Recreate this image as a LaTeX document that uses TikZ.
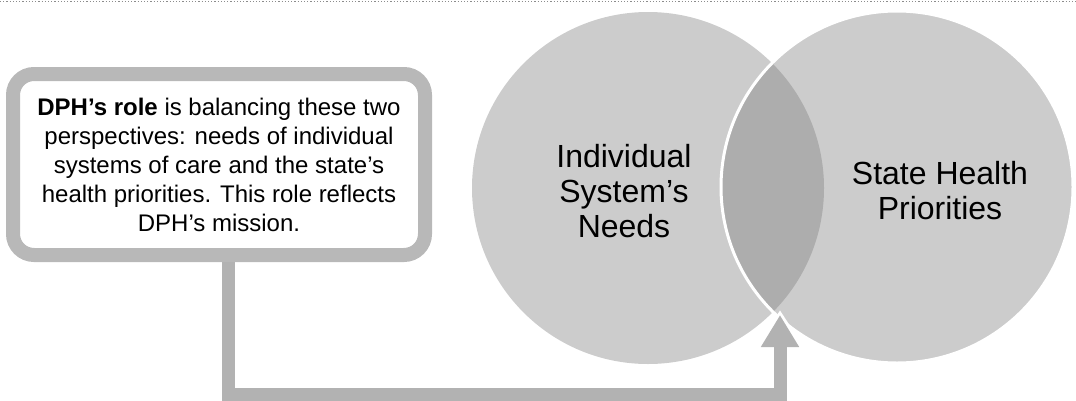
\documentclass[tikz,border=0pt]{standalone}
\usepackage{fontspec}
\setmainfont{Liberation Sans}
\usetikzlibrary{arrows.meta}
\definecolor{circfill}{gray}{0.80}
\definecolor{lensfill}{gray}{0.68}
\definecolor{boxline}{gray}{0.72}
\definecolor{arrowfill}{gray}{0.70}
\tikzset{
  venn/.style={circle, minimum size=352pt, inner sep=0pt, fill=circfill},
  bigtext/.style={align=center, font=\fontsize{32}{35}\selectfont, text=black},
  rolebox/.style={draw=boxline, line width=14pt, fill=white, rounded corners=21pt,
    minimum width=412pt, minimum height=181pt, inner sep=0pt, align=center,
    font=\fontsize{24}{29}\selectfont},
  conn/.style={draw=arrowfill, line width=13pt, -{Triangle[length=32pt,width=36pt]}},
  connhalo/.style={draw=white, line width=19pt, -{Triangle[length=38pt,width=46pt]}}
}
\begin{document}
\begin{tikzpicture}[x=1pt,y=-1pt]
\useasboundingbox (0,0) rectangle (1076,400);
% top dotted rule
\coordinate (tl) at (0,1.5);
\coordinate (tr) at (1076,1.5);
\draw[black!45, line width=1.2pt, dotted] (tl) -- (tr);
% circles
\coordinate (lcc) at (648,188);
\coordinate (rcc) at (897,187);
\node[venn] (lc) at (lcc) {};
\node[venn] (rc) at (rcc) {};
\begin{scope}
  \clip (lcc) circle (176pt);
  \fill[lensfill] (rcc) circle (176pt);
\end{scope}
\draw[white, line width=3pt] (rcc) circle (176pt);
\node[bigtext] (lt) at (624,191) {Individual\\System’s\\Needs};
\node[bigtext] (rt) at (940,191) {State Health\\Priorities};
% box
\node[rolebox] (box) at (219,164.5) {\textbf{DPH’s role} is balancing these two\\perspectives: needs of individual\\systems of care and the state’s\\health priorities. This role reflects\\DPH’s mission.};
% connector
\coordinate (c1) at (228,394);
\coordinate (c2) at (780,394);
\coordinate (tip) at (780,315);
\coordinate (tiphalo) at (780,310);
\draw[connhalo] (c2) -- (tiphalo);
\draw[conn] (box.south -| c1) -- (c1) -- (c2) -- (tip);
\end{tikzpicture}
\end{document}
